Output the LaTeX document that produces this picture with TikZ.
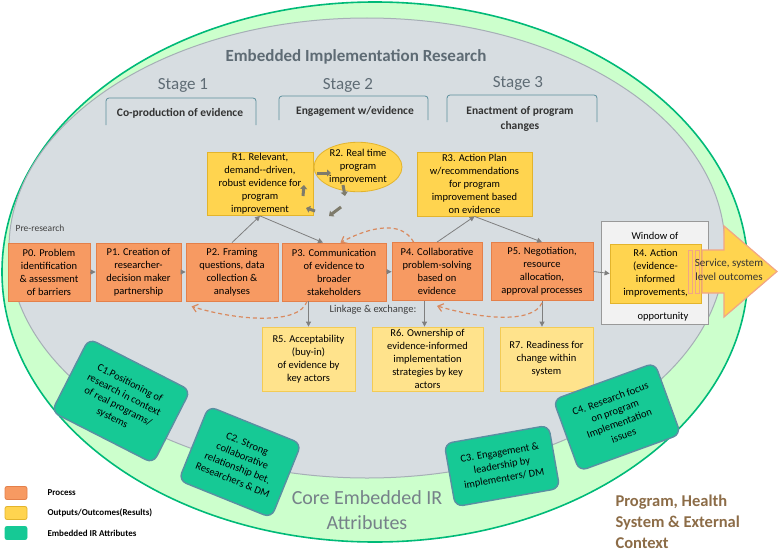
\documentclass[tikz,border=0pt]{standalone}
\usepackage{fontspec}
\setmainfont{Carlito}
\usetikzlibrary{arrows.meta,shapes.geometric}

\definecolor{procfill}{HTML}{F79A62}
\definecolor{procline}{HTML}{E4804A}
\definecolor{resfill}{HTML}{FFD44F}
\definecolor{resline}{HTML}{E3B42C}
\definecolor{litefill}{HTML}{FFE38C}
\definecolor{liteline}{HTML}{F3CB55}
\definecolor{attrfill}{HTML}{16C995}
\definecolor{attrline}{HTML}{5A8FA2}
\definecolor{ctxfill}{HTML}{CCFFCC}
\definecolor{ctxline}{HTML}{00BA78}
\definecolor{eirfill}{HTML}{D7DDE1}
\definecolor{eirline}{HTML}{A6AFB6}
\definecolor{titlegray}{HTML}{5E6B74}
\definecolor{stageline}{HTML}{5C8F9C}
\definecolor{linkgray}{HTML}{7F7F7F}
\definecolor{loopdash}{HTML}{D98A5F}
\definecolor{ctxbrown}{HTML}{8C6C47}
\definecolor{cyclegray}{HTML}{7E7B6B}
\definecolor{arrowline}{HTML}{F2A585}

\newcommand{\boxfont}{\fontsize{10.5}{13}\selectfont}

\tikzset{
  proc/.style={draw=procline, fill=procfill, line width=0.8, minimum height=58, align=center, inner sep=1, font=\boxfont},
  result/.style={draw=resline, fill=resfill, line width=0.8, align=center, inner sep=1, font=\boxfont},
  outcome/.style={draw=liteline, fill=litefill, line width=0.8, minimum height=64, align=center, inner sep=1, font=\boxfont},
  attr/.style={draw=attrline, fill=attrfill, line width=1.4, rounded corners=8, align=center, inner sep=1, font=\boxfont},
  link/.style={draw=linkgray, line width=0.8, -{Triangle[length=5pt,width=5pt]}},
  loop/.style={draw=loopdash, line width=1.2, dash pattern=on 4pt off 3pt, -{Straight Barb[length=5pt,width=8pt]}},
  cyc/.style={draw=cyclegray, line width=3, -{Triangle[length=4pt,width=7pt]}},
  stagebrace/.style={draw=stageline, line width=0.8, rounded corners=3},
  stagehead/.style={text=titlegray, font=\fontsize{17}{20}\selectfont},
  stagetext/.style={text=black!80, font=\fontsize{11.5}{15}\selectfont\bfseries, align=center},
  legsw/.style={rounded corners=2, minimum width=22, minimum height=13, inner sep=0, line width=0.8},
  legtext/.style={anchor=west, font=\fontsize{9}{11}\selectfont\bfseries}
}

\begin{document}
\begin{tikzpicture}[x=1pt,y=1pt,yscale=-1,xscale=1]
\useasboundingbox (0,0) rectangle (778,551);

%Shape: Ellipse [context]
\draw[draw=ctxline, fill=ctxfill, line width=1.6] (375,272) ellipse [x radius=373, y radius=270];
%Shape: Ellipse [embedded IR]
\draw[draw=eirline, fill=eirfill, line width=1] (367,248) ellipse [x radius=358, y radius=230];

% Text Node
\node[text=titlegray, font=\fontsize{17}{20}\selectfont\bfseries] (title) at (356,57) {Embedded Implementation Research};
% Text Node
\node[stagehead] (st1) at (183,85) {Stage 1};
\node[stagehead] (st2) at (348,85) {Stage 2};
\node[stagehead] (st3) at (518,83) {Stage 3};

%Stage brackets
\draw[stagebrace] (106,125) -- (106,98) -- (256,98) -- (256,125);
\draw[stagebrace] (279,120) -- (279,96) -- (428,96) -- (428,120);
\draw[stagebrace] (447,122) -- (447,95) -- (597,95) -- (597,122);
% Text Node
\node[stagetext] (co) at (180,113) {Co-production of evidence};
\node[stagetext] (eng) at (355,111) {Engagement w/evidence};
\node[stagetext] (enact) at (520,119) {Enactment of program\\changes};

% Text Node
\node[font=\fontsize{9.5}{11}\selectfont, text=black!75] (pre) at (40,228) {Pre-research};
\node[font=\fontsize{10.5}{12}\selectfont, text=black!75] (linkx) at (373,310) {Linkage \& exchange:};

%Window of opportunity
\node[draw=black!40, fill=black!5, line width=0.8, minimum width=107, minimum height=103, inner sep=0] (win) at (654.5,272.5) {};
\node[font=\boxfont] (winT) at (655,236) {Window of};
\node[font=\boxfont] (winB) at (663,317) {opportunity};

%Flowchart: Process
\node[proc, minimum width=82] (P0) at (49,272) {P0. Problem\\identification\\\& assessment\\of barriers};
\node[proc, minimum width=85] (P1) at (138.5,272) {P1. Creation of\\researcher-\\decision maker\\partnership};
\node[proc, minimum width=92] (P2) at (232,272) {P2. Framing\\questions, data\\collection \&\\analyses};
\node[proc, minimum width=104] (P3) at (334,272) {P3. Communication\\of evidence to\\broader\\stakeholders};
\node[proc, minimum width=90] (P4) at (437,271.5) {P4. Collaborative\\problem-solving\\based on\\evidence};
\node[proc, minimum width=102] (P5) at (542,271.5) {P5. Negotiation,\\resource\\allocation,\\approval processes};

%Results
\node[result, minimum width=106, minimum height=62] (R1) at (260,184) {R1. Relevant,\\demand-{}-driven,\\robust evidence for\\program\\improvement};
\node[result, ellipse, minimum width=88, minimum height=48, inner sep=0] (R2) at (358,167) {R2. Real time\\program\\improvement};
\node[result, minimum width=115, minimum height=64] (R3) at (474.5,184) {R3. Action Plan\\w/recommendations\\for program\\improvement based\\on evidence};
\node[result, minimum width=91, minimum height=59] (R4) at (655.5,273.5) {R4. Action\\(evidence-\\informed\\improvements,};

%Outcomes
\node[outcome, minimum width=93] (R5) at (308.5,359) {R5. Acceptability\\(buy-in)\\of evidence by\\key actors};
\node[outcome, minimum width=111] (R6) at (427.5,359) {R6. Ownership of\\evidence-informed\\implementation\\strategies by key\\actors};
\node[outcome, minimum width=93] (R7) at (546.5,359) {R7. Readiness for\\change within\\system};

%Cycle between R1 and R2
\draw[cyc] (317,173) -- (331,173);
\draw[cyc] (343,185) -- (345,196);
\draw[cyc] (341,207) -- (329,216);
\draw[cyc] (315,211) -- (306,208);
\draw[cyc] (303,196) -- (304,185);

%Big arrow
\fill[resfill] (688,250) rectangle (692,293);
\fill[resfill] (695,250) rectangle (699,293);
\draw[arrowline, line width=0.8] (688,250) rectangle (692,293) (695,250) rectangle (699,293);
\draw[draw=arrowline, fill=resfill, line width=1.2] (702,250) -- (724,250) -- (724,226) -- (777,271.5) -- (724,317) -- (724,293) -- (702,293) -- cycle;
\node[font=\fontsize{11}{14}\selectfont, align=center, text=black!80] (out) at (729,270) {Service, system\\level outcomes};

%Connectors
\draw[link] (P0) -- (P1);
\draw[link] (P1) -- (P2);
\draw[link] (P2.north) -- (R1.south);
\draw[link] (R1.south) -- ([xshift=-11]P3.north);
\draw[link] (P3) -- (P4);
\draw[link] (P4.north) -- (R3.south);
\draw[link] (R3.south) -- (P5.north);
\draw[link] (P5.east) -- (R4.west);
\draw[link] (R5.north |- P3.south) -- (R5.north);
\draw[link] ([xshift=-3]R6.north |- P4.south) -- ([xshift=-3]R6.north);
\draw[link] (P5.south) -- (P5.south |- R7.north);

%Curve Lines
\draw[loop] ([xshift=22]P4.north west) .. controls +(-12,-22) and +(30,-16) .. ([xshift=-46]P3.north east);
\draw[loop] ([xshift=-27]P3.south) .. controls +(-8,24) and +(45,14) .. ([xshift=6,yshift=5]P2.south west);
\draw[loop] ([yshift=2]P5.south) .. controls +(-10,22) and +(40,12) .. ([yshift=5]P4.south);

%Core attributes
\node[attr, rotate=-27, minimum width=114, minimum height=82] (C1) at (121,401) {C1.Positioning of\\research in context\\of real programs/\\systems};
\node[attr, rotate=-22, minimum width=100, minimum height=80] (C2) at (240,462) {C2. Strong\\collaborative\\relationship bet.\\Researchers \& DM};
\node[attr, rotate=10, minimum width=106, minimum height=64] (C3) at (502,466) {C3. Engagement \&\\leadership by\\implementers/ DM};
\node[attr, rotate=20, minimum width=108, minimum height=76] (C4) at (617,417) {C4. Research focus\\on program\\Implementation\\issues};

% Text Node
\node[text=titlegray!85, font=\fontsize{20}{25}\selectfont, align=center] (core) at (367,510) {Core Embedded IR\\Attributes};
\node[text=ctxbrown, font=\fontsize{16.5}{21}\selectfont\bfseries, align=left, anchor=north west] (ctx) at (612,491) {Program, Health\\System \& External\\Context};

%Legend
\node[legsw, fill=procfill, draw=procline] (lg1) at (16,493) {};
\node[legtext] (lt1) at (44,493) {Process};
\node[legsw, fill=resfill, draw=resline] (lg2) at (16,513) {};
\node[legtext] (lt2) at (44,513) {Outputs/Outcomes(Results)};
\node[legsw, fill=attrfill, draw=attrfill] (lg3) at (16,533) {};
\node[legtext] (lt3) at (44,533) {Embedded IR Attributes};

\end{tikzpicture}
\end{document}
